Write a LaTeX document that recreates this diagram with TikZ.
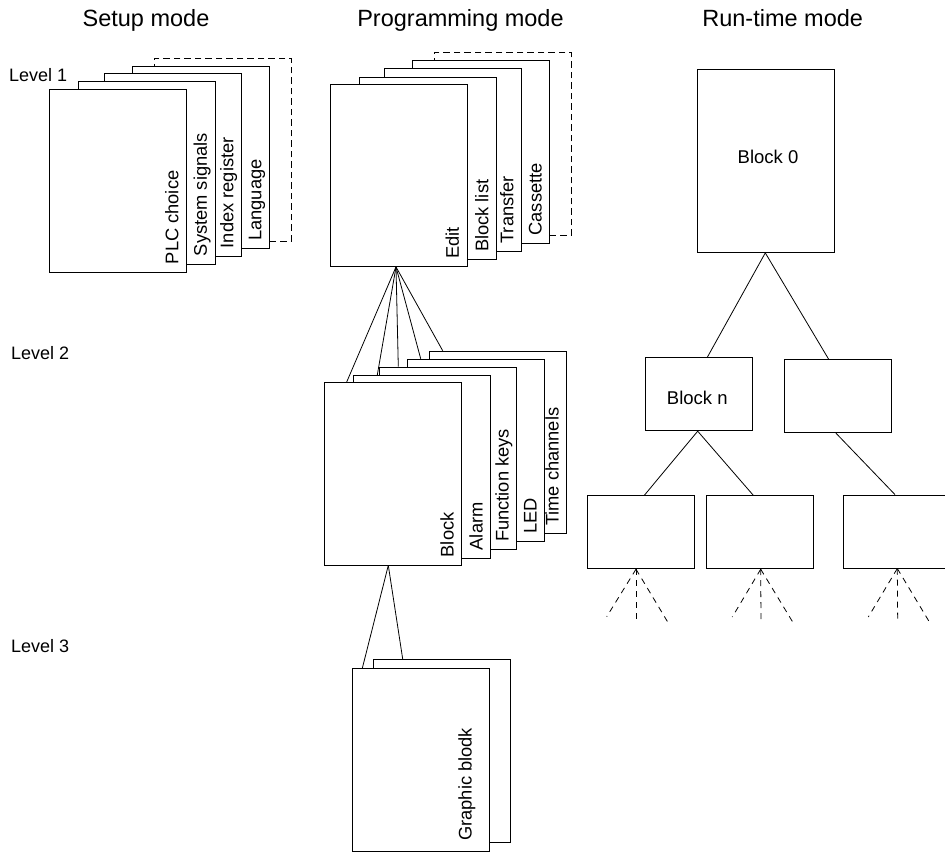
\documentclass[tikz,border=0pt]{standalone}
\usepackage{fontspec}
\setmainfont{Liberation Sans}
\tikzset{
  x=1pt, y=-1pt,
  page/.style={draw, fill=white, line width=0.9pt, inner sep=0pt, anchor=north west,
               minimum width=137pt, minimum height=182.5pt},
  ghost/.style={page, fill=none, dash pattern=on 6.5pt off 4pt},
  rtbox/.style={draw, fill=white, line width=0.9pt, inner sep=0pt, anchor=north west,
               minimum width=107pt, minimum height=73pt},
  tab/.style={inner sep=0pt, anchor=base west, rotate=90, font=\fontsize{18.3}{22}\selectfont},
  title/.style={inner sep=0pt, anchor=base, font=\fontsize{23.5}{28}\selectfont},
  lvl/.style={inner sep=0pt, anchor=base west, font=\fontsize{18}{22}\selectfont},
  blk/.style={inner sep=0pt, font=\fontsize{18.5}{22}\selectfont},
  link/.style={line width=0.8pt},
  dlink/.style={line width=0.8pt, dash pattern=on 6pt off 5pt},
}
\begin{document}
\begin{tikzpicture}
\useasboundingbox (0,0) rectangle (945,852);
\clip (0,0) rectangle (945,852);

% titles and levels
\node[title] (tsetup) at (146,26) {Setup mode};
\node[title] (tprog) at (460.5,26) {Programming mode};
\node[title] (trun) at (782.7,26) {Run-time mode};
\node[lvl] (lv1) at (9,81) {Level 1};
\node[lvl] (lv2) at (11,359) {Level 2};
\node[lvl] (lv3) at (11,652) {Level 3};

% setup stack
\node[ghost] (s5) at (154,58) {};
\node[page] (s4) at (132,65.5) {};
\node[page] (s3) at (104,73) {};
\node[page] (s2) at (77.5,81) {};
\node[page] (s1) at (49,89) {};
\node[tab] (ts1) at ([xshift=-8.5pt,yshift=8pt]s1.south east) {PLC choice};
\node[tab] (ts2) at ([xshift=-8.5pt,yshift=8pt]s2.south east) {System signals};
\node[tab] (ts3) at ([xshift=-8.5pt,yshift=8pt]s3.south east) {Index register};
\node[tab] (ts4) at ([xshift=-8.5pt,yshift=8pt]s4.south east) {Language};

% programming stack
\node[ghost] (p5) at (434,52.3) {};
\node[page] (p4) at (412.3,60.3) {};
\node[page] (p3) at (384,68.3) {};
\node[page] (p2) at (359,76.7) {};
\node[page] (p1) at (330,83.5) {};
\node[tab] (tp1) at ([xshift=-9pt,yshift=8pt]p1.south east) {Edit};
\node[tab] (tp2) at ([xshift=-8.5pt,yshift=8pt]p2.south east) {Block list};
\node[tab] (tp3) at ([xshift=-8.5pt,yshift=8pt]p3.south east) {Transfer};
\node[tab] (tp4) at ([xshift=-8.5pt,yshift=8pt]p4.south east) {Cassette};

% level 2 stack
\node[page] (q5) at (429.3,350.7) {};
\node[page] (q4) at (407.3,358.7) {};
\node[page] (q3) at (379.3,366.7) {};
\node[page] (q2) at (353.3,375) {};
\node[page] (q1) at (324.3,382) {};
\node[tab] (tq1) at ([xshift=-8.5pt,yshift=8pt]q1.south east) {Block};
\node[tab] (tq2) at ([xshift=-8.5pt,yshift=8pt]q2.south east) {Alarm};
\node[tab] (tq3) at ([xshift=-8.5pt,yshift=8pt]q3.south east) {Function keys};
\node[tab] (tq4) at ([xshift=-8.5pt,yshift=8pt]q4.south east) {LED};
\node[tab] (tq5) at ([xshift=-8.5pt,yshift=8pt]q5.south east) {Time channels};

% level 3 stack
\node[page] (r2) at (373.3,659) {};
\node[page] (r1) at (351.7,668.3) {};
\node[tab] (tr1) at (471.7,841) {Graphic blodk};

% fan lines programming -> level 2
\coordinate (papex) at ([xshift=66pt]p1.south west);
\draw[link] (papex) -- ([xshift=22.4pt]q1.north west);
\draw[link] (papex) -- ([xshift=24pt]q2.north west);
\draw[link] (papex) -- ([xshift=19pt]q3.north west);
\draw[link] (papex) -- ([xshift=13.4pt]q4.north west);
\draw[link] (papex) -- ([xshift=13.4pt]q5.north west);

% fan lines level 2 -> level 3
\coordinate (qapex) at ([xshift=64pt]q1.south west);
\draw[link] (qapex) -- ([xshift=10.6pt]r1.north west);
\draw[link] (qapex) -- ([xshift=29.4pt]r2.north west);

% run-time tree
\node[page, minimum height=182.7pt] (b0) at (696.7,69.3) {};
\node[blk] (tb0) at (768,156.7) {Block 0};
\node[rtbox] (bn) at (645.3,357.3) {};
\node[blk] (tbn) at (697.3,398.3) {Block n};
\node[rtbox] (br) at (784.3,359.3) {};
\node[rtbox] (ba) at (586.7,495.3) {};
\node[rtbox] (bb) at (705.7,495.3) {};
\node[rtbox] (bc) at (843.3,494.6) {};

\draw[link] ([xshift=68.6pt]b0.south west) -- ([xshift=62pt]bn.north west);
\draw[link] ([xshift=68.6pt]b0.south west) -- ([xshift=44.4pt]br.north west);
\draw[link] ([xshift=52.4pt]bn.south west) -- ([xshift=57.6pt]ba.north west);
\draw[link] ([xshift=52.4pt]bn.south west) -- ([xshift=47.6pt]bb.north west);
\draw[link] ([xshift=51.7pt]br.south west) -- ([xshift=51.7pt]bc.north west);

% dashed fans
\coordinate (ea1) at (606.7,616.7);
\coordinate (ea2) at (636,623);
\coordinate (ea3) at (668.3,623);
\coordinate (eb1) at (732.3,617);
\coordinate (eb2) at (761,623);
\coordinate (eb3) at (793.3,623);
\coordinate (ec1) at (868.3,617);
\coordinate (ec2) at (897.7,623);
\coordinate (ec3) at (930,623);
\foreach \e in {ea1,ea2,ea3} \draw[dlink] ([xshift=49.3pt]ba.south west) -- (\e);
\foreach \e in {eb1,eb2,eb3} \draw[dlink] ([xshift=55pt]bb.south west) -- (\e);
\foreach \e in {ec1,ec2,ec3} \draw[dlink] ([xshift=54pt]bc.south west) -- (\e);
\end{tikzpicture}
\end{document}
